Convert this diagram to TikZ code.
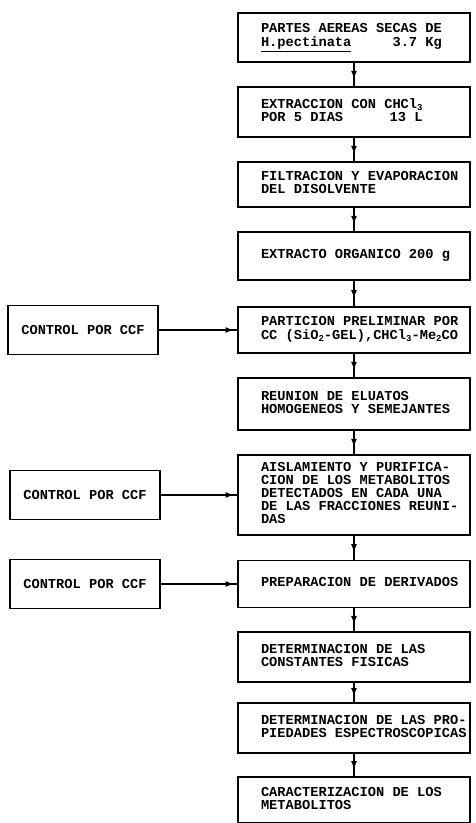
\documentclass[tikz,border=0pt]{standalone}
\usepackage{fontspec}
\setmonofont{Liberation Mono}
\usetikzlibrary{arrows.meta,decorations.markings}
\newcommand{\bxt}[1]{\makebox[186bp][l]{\begin{tabular}{@{}l@{}}#1\end{tabular}}}
\newcommand{\sbs}[1]{\raisebox{-0.25ex}{\fontsize{9bp}{9bp}\selectfont #1}}
\begin{document}
\begin{tikzpicture}[x=1bp,y=-1bp,
  txt/.style={font=\ttfamily\bfseries\fontsize{13.7bp}{12.6bp}\selectfont},
  box/.style={txt,draw,line width=1.1bp,minimum width=232bp,inner xsep=0pt,inner ysep=0pt},
  lbox/.style={txt,draw,line width=1.1bp,minimum width=150bp,minimum height=49bp,inner sep=0pt},
  tip/.style={},
  flow/.style={line width=1.1bp,postaction={decorate},
    decoration={markings,mark=at position 0.68 with {\arrow{Latex[length=8bp,width=6bp]}}}},
  hflow/.style={line width=1.1bp,postaction={decorate},
    decoration={markings,mark=at position 0.95 with {\arrow{Latex[length=8bp,width=6bp]}}}}]
\useasboundingbox (0,0) rectangle (476,823);
% main column
\node[box,minimum height=49bp] (b1) at (354,37.5) {\bxt{PARTES AEREAS SECAS DE\\ \underline{H.pectinata}\hfill 3.7 Kg}};
\node[box,minimum height=50bp] (b2) at (354,112) {\bxt{EXTRACCION CON CHCl\sbs{3}\\ POR 5 DIAS\hfill 13 L}};
\node[box,minimum height=45bp] (b3) at (354,184.5) {\bxt{FILTRACION Y EVAPORACION\\ DEL DISOLVENTE}};
\node[box,minimum height=48bp] (b4) at (354,256) {\bxt{EXTRACTO ORGANICO 200 g}};
\node[box,minimum height=46bp] (b5) at (354,330) {\bxt{PARTICION PRELIMINAR POR\\ CC (SiO\sbs{2}-GEL),CHCl\sbs{3}-Me\sbs{2}CO}};
\node[box,minimum height=52bp] (b6) at (354,404) {\bxt{REUNION DE ELUATOS\\ HOMOGENEOS Y SEMEJANTES}};
\node[box,minimum height=80bp] (b7) at (354,495) {\bxt{AISLAMIENTO Y PURIFICA-\\ CION DE LOS METABOLITOS\\ DETECTADOS EN CADA UNA\\ DE LAS FRACCIONES REUNI-\\ DAS}};
\node[box,minimum height=47bp] (b8) at (354,584) {\bxt{PREPARACION DE DERIVADOS}};
\node[box,minimum height=50bp] (b9) at (354,657) {\bxt{DETERMINACION DE LAS\\ CONSTANTES FISICAS}};
\node[box,minimum height=50bp] (b10) at (354,728) {\bxt{DETERMINACION DE LAS PRO-\\ PIEDADES ESPECTROSCOPICAS}};
\node[box,minimum height=46bp] (b11) at (354,800) {\bxt{CARACTERIZACION DE LOS\\ METABOLITOS}};
% control boxes
\node[lbox] (l1) at (83,330) {CONTROL POR CCF};
\node[lbox] (l2) at (85,495) {CONTROL POR CCF};
\node[lbox] (l3) at (85,584) {CONTROL POR CCF};
% connectors
\foreach \a/\b in {b1/b2,b2/b3,b3/b4,b4/b5,b5/b6,b6/b7,b7/b8,b8/b9,b9/b10,b10/b11}
  \draw[flow] (\a) -- (\b);
\draw[hflow] (l1) -- (b5);
\draw[hflow] (l2) -- (b7);
\draw[hflow] (l3) -- (b8);
\end{tikzpicture}
\end{document}
